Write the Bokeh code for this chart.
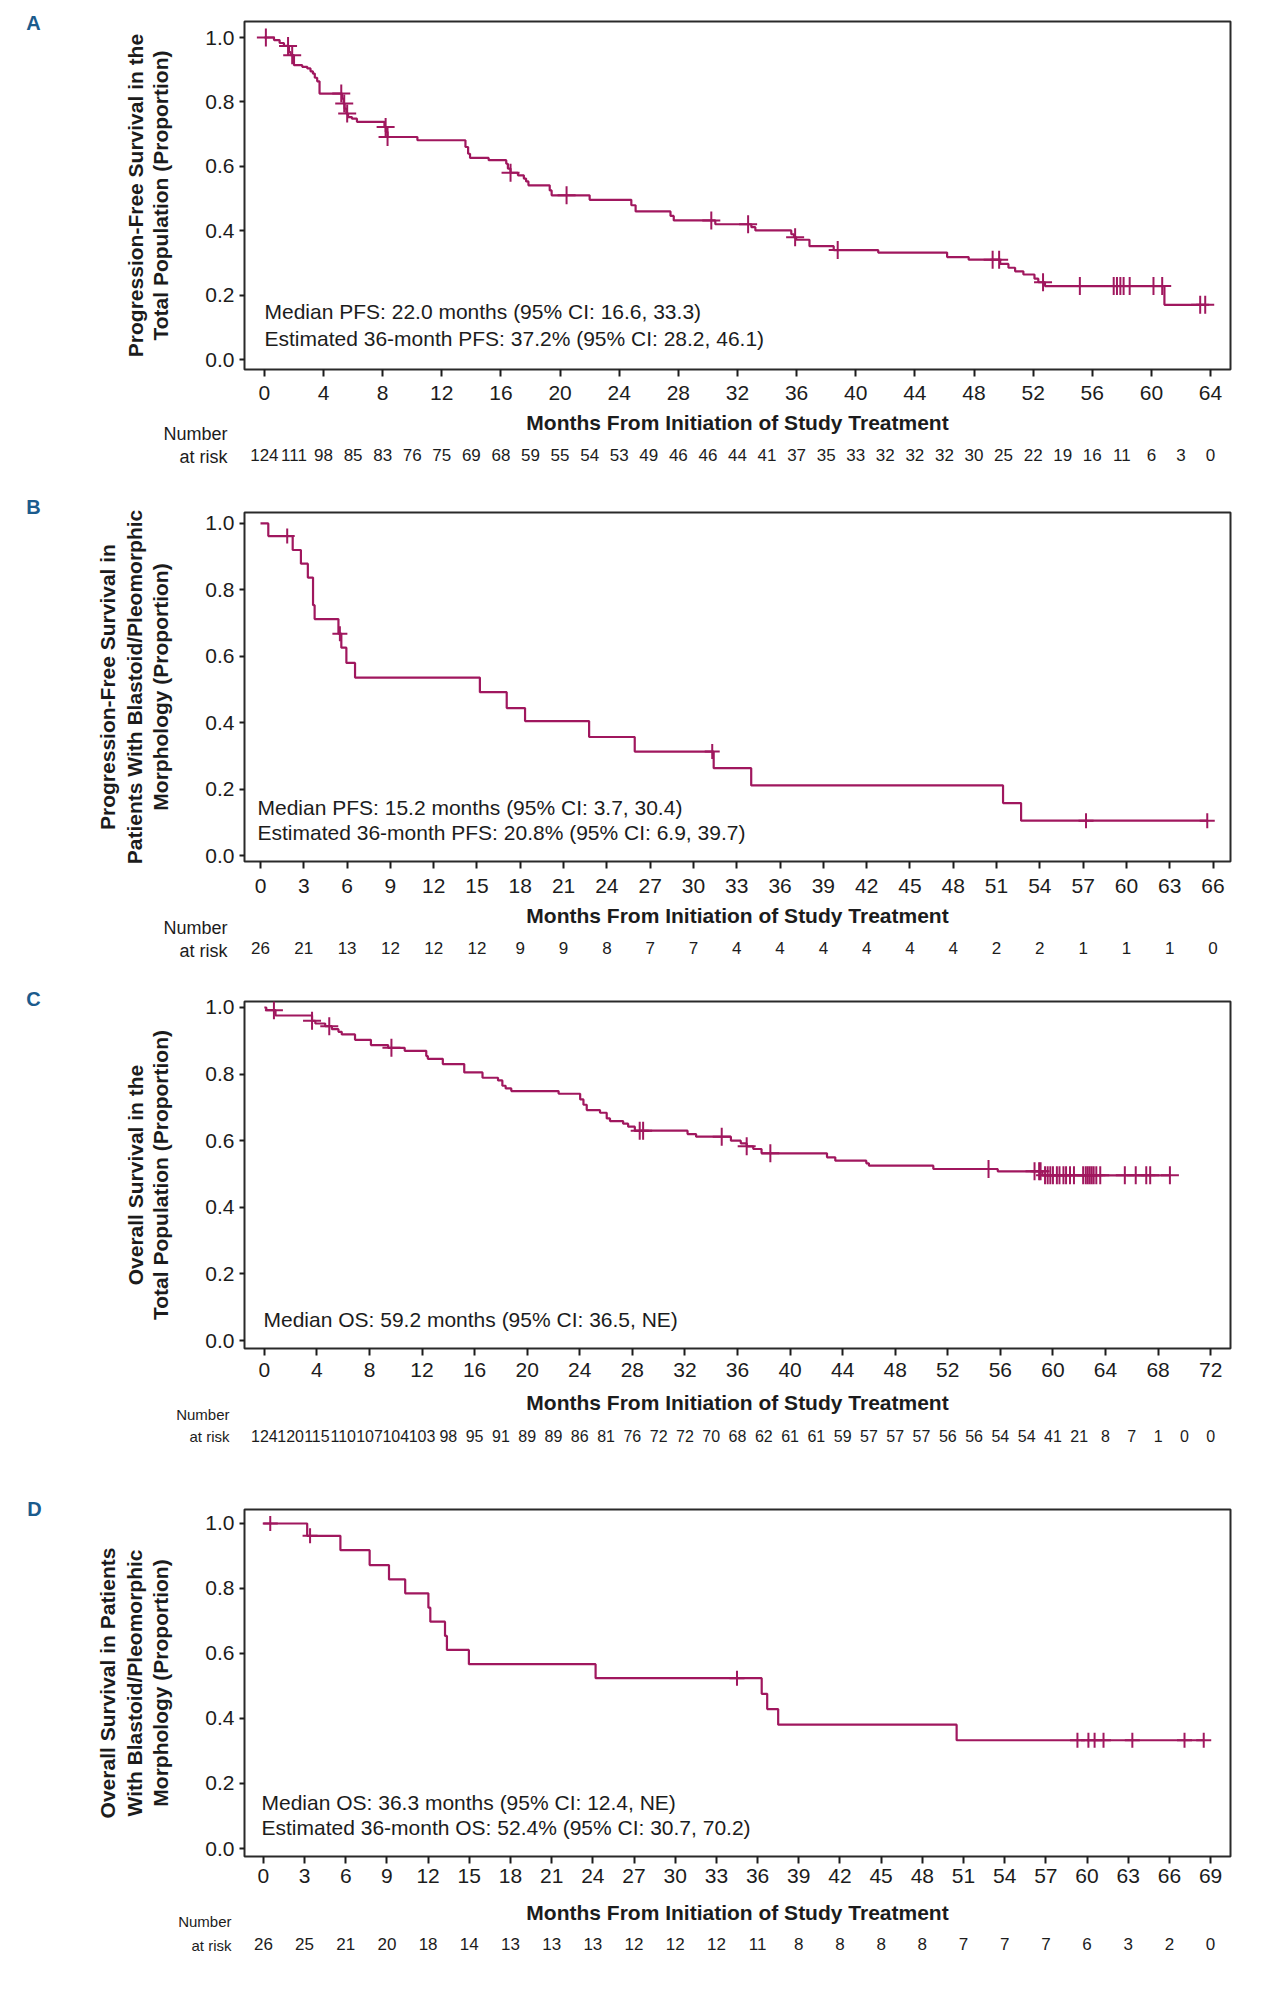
from bokeh.plotting import figure
from bokeh.models import Range1d, FixedTicker, LinearAxis, Label, NumeralTickFormatter
from bokeh.layouts import column
from bokeh.embed import file_html
from bokeh.resources import INLINE

# ---------------- data ----------------
X_TITLE = "Months From Initiation of Study Treatment"

# Panel A: PFS, total population
A_event_months = [0.65, 1.03, 1.32, 1.66, 1.77, 2.0, 2.56, 2.9, 3.12, 3.28, 3.41, 3.57, 3.73,
                  5.25, 5.36, 5.43, 5.54, 5.66, 5.92, 6.26, 8.12, 8.21, 8.33, 10.35, 13.6,
                  13.78, 13.91, 15.17, 16.36, 16.47, 16.65, 17.15, 17.55, 17.7, 17.86, 19.3,
                  19.43, 22.0, 24.82, 25.11, 27.47, 27.69, 30.5, 32.94, 33.21, 35.64, 35.82,
                  35.97, 36.87, 38.51, 41.52, 46.18, 47.64, 49.77, 50.33, 50.78, 51.34, 52.09,
                  52.35, 52.8, 60.88]
A_event_surv = [0.992, 0.983, 0.974, 0.955, 0.945, 0.914, 0.909, 0.904, 0.895, 0.888, 0.875, 0.864, 0.826,
                0.810, 0.795, 0.779, 0.764, 0.753, 0.748, 0.738, 0.722, 0.707, 0.691, 0.681, 0.660,
                0.639, 0.626, 0.619, 0.608, 0.593, 0.580, 0.572, 0.562, 0.553, 0.541, 0.525,
                0.510, 0.496, 0.479, 0.460, 0.446, 0.432, 0.420, 0.411, 0.401, 0.389, 0.380,
                0.372, 0.352, 0.340, 0.332, 0.318, 0.310, 0.297, 0.285, 0.274, 0.264, 0.251,
                0.240, 0.228, 0.170]
A_censor_months = [0.1, 1.6, 1.88, 5.2, 5.4, 5.6, 8.2, 8.33, 16.65, 20.44, 30.23, 32.72, 35.9,
                   38.78, 49.26, 49.7, 52.67, 55.16, 57.45, 57.67, 57.9, 58.12, 58.53, 60.14,
                   60.73, 63.3, 63.64]
A_x_ticks = list(range(0, 65, 4))
A_risk_months = list(range(0, 65, 2))
A_at_risk = [124, 111, 98, 85, 83, 76, 75, 69, 68, 59, 55, 54, 53, 49, 46, 46, 44, 41, 37, 35,
             33, 32, 32, 32, 30, 25, 22, 19, 16, 11, 6, 3, 0]
A_y_title = "Progression-Free Survival in the\nTotal Population (Proportion)"
A_notes = ["Median PFS: 22.0 months (95% CI: 16.6, 33.3)",
           "Estimated 36-month PFS: 37.2% (95% CI: 28.2, 46.1)"]

# Panel B: PFS, blastoid/pleomorphic
B_event_months = [0.54, 2.23, 2.8, 3.28, 3.64, 3.75, 5.4, 5.6, 5.95, 6.55, 15.2, 17.06, 18.33,
                  22.77, 25.93, 31.4, 34.0, 51.45, 52.7]
B_event_surv = [0.962, 0.920, 0.879, 0.837, 0.754, 0.712, 0.668, 0.626, 0.580, 0.536, 0.492,
                0.444, 0.405, 0.357, 0.313, 0.263, 0.211, 0.158, 0.105]
B_censor_months = [1.85, 5.5, 31.3, 57.2, 65.6]
B_x_ticks = list(range(0, 67, 3))
B_risk_months = list(range(0, 67, 3))
B_at_risk = [26, 21, 13, 12, 12, 12, 9, 9, 8, 7, 7, 4, 4, 4, 4, 4, 4, 2, 2, 1, 1, 1, 0]
B_y_title = "Progression-Free Survival in\nPatients With Blastoid/Pleomorphic\nMorphology (Proportion)"
B_notes = ["Median PFS: 15.2 months (95% CI: 3.7, 30.4)",
           "Estimated 36-month PFS: 20.8% (95% CI: 6.9, 39.7)"]

# Panel C: OS, total population
C_event_months = [0.15, 0.85, 3.63, 3.88, 4.63, 5.14, 5.64, 5.89, 6.9, 8.11, 9.42, 10.68, 12.32,
                  12.44, 13.58, 15.21, 16.6, 17.78, 18.11, 18.36, 18.79, 22.39, 24.03, 24.28,
                  24.53, 25.54, 26.05, 26.3, 27.3, 27.68, 28.19, 32.2, 32.85, 35.5, 36.25, 36.7,
                  37.2, 37.83, 42.81, 43.44, 45.8, 46.0, 50.9, 55.8, 59.2]
C_event_surv = [0.992, 0.976, 0.960, 0.952, 0.944, 0.935, 0.927, 0.919, 0.903, 0.887, 0.879, 0.870, 0.854,
                0.846, 0.830, 0.805, 0.789, 0.781, 0.765, 0.757, 0.749, 0.741, 0.724, 0.708,
                0.692, 0.684, 0.667, 0.659, 0.651, 0.642, 0.630, 0.620, 0.612, 0.600, 0.592, 0.583,
                0.575, 0.562, 0.550, 0.540, 0.532, 0.525, 0.515, 0.508, 0.496]
C_censor_months = [0.73, 3.63, 4.94, 9.67, 28.56, 28.82, 34.8, 36.7, 38.5, 55.1, 58.6, 58.95,
                   59.06, 59.4, 59.6, 59.8, 60.0, 60.3, 60.5, 60.8, 61.0, 61.3, 61.6, 62.3, 62.5,
                   62.65, 62.8, 62.95, 63.1, 63.3, 63.6, 65.47, 66.3, 67.1, 67.4, 68.9]
C_x_ticks = list(range(0, 73, 4))
C_risk_months = list(range(0, 73, 2))
C_at_risk = [124, 120, 115, 110, 107, 104, 103, 98, 95, 91, 89, 89, 86, 81, 76, 72, 72, 70, 68,
             62, 61, 61, 59, 57, 57, 57, 56, 56, 54, 54, 41, 21, 8, 7, 1, 0, 0]
C_y_title = "Overall Survival in the\nTotal Population (Proportion)"
C_notes = ["Median OS: 59.2 months (95% CI: 36.5, NE)"]

# Panel D: OS, blastoid/pleomorphic
D_event_months = [3.19, 5.61, 7.74, 9.15, 10.33, 12.02, 12.16, 13.23, 13.37, 14.97, 24.2, 36.3,
                  36.7, 37.5, 50.5]
D_event_surv = [0.962, 0.918, 0.872, 0.828, 0.785, 0.741, 0.698, 0.654, 0.611, 0.567, 0.524,
                0.476, 0.429, 0.381, 0.333]
D_censor_months = [0.5, 3.4, 34.5, 59.3, 60.1, 60.55, 61.2, 63.3, 67.1, 68.5]
D_x_ticks = list(range(0, 70, 3))
D_risk_months = list(range(0, 70, 3))
D_at_risk = [26, 25, 21, 20, 18, 14, 13, 13, 13, 12, 12, 12, 11, 8, 8, 8, 8, 7, 7, 7, 6, 3, 2, 0]
D_y_title = "Overall Survival in Patients\nWith Blastoid/Pleomorphic\nMorphology (Proportion)"
D_notes = ["Median OS: 36.3 months (95% CI: 12.4, NE)",
           "Estimated 36-month OS: 52.4% (95% CI: 30.7, 70.2)"]

Y_TICKS = [0.0, 0.2, 0.4, 0.6, 0.8, 1.0]

# ---------------- style ----------------
CURVE = "#a0175e"
INK = "#1c1c1c"
LETTER = "#1b5b8d"
FONT = "Liberation Sans"
W = 1274


def km_path(ev_t, ev_s, cens_t):
    end = max(list(ev_t) + list(cens_t))
    xs = [0.0] + list(ev_t) + [end]
    ys = [1.0] + list(ev_s) + [ev_s[-1]]
    return xs, ys


def surv_at(t, ev_t, ev_s):
    s = 1.0
    for tt, ss in zip(ev_t, ev_s):
        if tt <= t:
            s = ss
    return s


def panel(letter, height, frame, xr, yr, ev_t, ev_s, cens_t, x_ticks, risk_t, risk_n,
          y_title, notes, lay):
    left, right, top, bottom = frame
    p = figure(width=W, height=height, x_range=Range1d(*xr), y_range=Range1d(*yr),
               output_backend="svg", toolbar_location=None,
               min_border_left=left, min_border_right=W - right,
               min_border_top=top, min_border_bottom=height - bottom)
    p.background_fill_color = "white"
    p.border_fill_color = "white"
    p.outline_line_color = "#2a2a2a"
    p.outline_line_width = 2
    p.xgrid.visible = False
    p.ygrid.visible = False

    xs, ys = km_path(ev_t, ev_s, cens_t)
    p.step(xs, ys, mode="after", line_color=CURVE, line_width=2.2)
    cy = [surv_at(t, ev_t, ev_s) for t in cens_t]
    p.scatter(cens_t, cy, marker="cross", size=lay["csize"], line_color=CURVE, line_width=2)

    xa = p.xaxis[0]
    xa.ticker = FixedTicker(ticks=x_ticks)
    xa.axis_line_color = None
    xa.major_tick_out = 7
    xa.major_tick_in = 0
    xa.minor_tick_line_color = None
    xa.major_tick_line_width = 2
    xa.major_tick_line_color = INK
    xa.major_label_text_font = FONT
    xa.major_label_text_font_size = "21px"
    xa.major_label_text_color = INK
    xa.major_label_standoff = lay["xs1"]
    xa.axis_label = X_TITLE
    xa.axis_label_text_font = FONT
    xa.axis_label_text_font_size = "21px"
    xa.axis_label_text_font_style = "bold"
    xa.axis_label_text_color = INK
    xa.axis_label_standoff = lay["xs2"]

    ya = p.yaxis[0]
    ya.ticker = FixedTicker(ticks=Y_TICKS)
    ya.formatter = NumeralTickFormatter(format="0.0")
    ya.axis_line_color = None
    ya.major_tick_out = 5
    ya.major_tick_in = 0
    ya.minor_tick_line_color = None
    ya.major_tick_line_width = 2
    ya.major_tick_line_color = INK
    ya.major_label_text_font = FONT
    ya.major_label_text_font_size = "21px"
    ya.major_label_text_color = INK
    ya.major_label_standoff = 5
    ya.axis_label = y_title
    ya.axis_label_text_font = FONT
    ya.axis_label_text_font_size = "21px"
    ya.axis_label_text_font_style = "bold"
    ya.axis_label_text_color = INK
    ya.axis_label_text_line_height = lay["lh"]
    ya.axis_label_standoff = lay["ys"]

    risk = LinearAxis(ticker=FixedTicker(ticks=risk_t),
                      major_label_overrides={int(t): str(n) for t, n in zip(risk_t, risk_n)})
    risk.axis_line_color = None
    risk.major_tick_line_color = None
    risk.minor_tick_line_color = None
    risk.major_tick_out = 0
    risk.major_tick_in = 0
    risk.major_label_text_font = FONT
    risk.major_label_text_font_size = lay["rfs"]
    risk.major_label_text_color = INK
    risk.major_label_standoff = lay["rs"]
    p.add_layout(risk, "below")

    # texts outside the frame: placed in side panels, positioned in canvas pixels
    p.add_layout(Label(x=lay["nx"], y=lay["ny"], x_units="canvas", y_units="canvas",
                       text="Number\nat risk", text_font=FONT, text_font_size=lay["nfs"],
                       text_line_height=lay["nlh"],
                       text_color=INK, text_align="right", text_baseline="middle"), "left")
    p.add_layout(Label(x=lay["lx"], y=lay["ly"], x_units="canvas", y_units="canvas",
                       text=letter, text_font=FONT, text_font_size="20px",
                       text_font_style="bold", text_color=LETTER,
                       text_align="center", text_baseline="middle"), "right")
    for i, t in enumerate(notes):
        p.add_layout(Label(x=lay["tx"], y=lay["ty"][i], x_units="screen", y_units="screen",
                           text=t, text_font=FONT, text_font_size="21px",
                           text_color=INK, text_align="left", text_baseline="middle"))
    return p


pA = panel("A", 478, (242, 1233, 21, 369), (-1.346, 65.35), (-0.031, 1.0497),
           A_event_months, A_event_surv, A_censor_months, A_x_ticks, A_risk_months, A_at_risk,
           A_y_title, A_notes,
           dict(csize=18, xs1=9, xs2=8, rs=12, rfs="17px", lh=1.12, ys=30,
                nx=227, ny=445, nfs="18px", nlh=1.12, lx=33, ly=22, tx=20, ty=[58, 31]))
pB = panel("B", 490, (244, 1230, 34, 383), (-1.109, 67.21), (-0.018, 1.033),
           B_event_months, B_event_surv, B_censor_months, B_x_ticks, B_risk_months, B_at_risk,
           B_y_title, B_notes,
           dict(csize=15, xs1=10, xs2=8, rs=12, rfs="17px", lh=1.15, ys=30,
                nx=227, ny=461, nfs="18px", nlh=1.12, lx=33, ly=28, tx=13, ty=[54, 29]))
pC = panel("C", 500, (242, 1236, 33, 380), (-1.509, 73.51), (-0.024, 1.018),
           C_event_months, C_event_surv, C_censor_months, C_x_ticks, C_risk_months, C_at_risk,
           C_y_title, C_notes,
           dict(csize=18, xs1=7, xs2=11, rs=13, rfs="16px", lh=1.12, ys=30,
                nx=229, ny=457, nfs="15px", nlh=1.25, lx=33, ly=30, tx=19, ty=[29]))
pD = panel("D", 530, (244, 1236, 41, 388), (-1.376, 70.45), (-0.0246, 1.043),
           D_event_months, D_event_surv, D_censor_months, D_x_ticks, D_risk_months, D_at_risk,
           D_y_title, D_notes,
           dict(csize=15, xs1=5, xs2=15, rs=11, rfs="17px", lh=1.15, ys=30,
                nx=231, ny=465, nfs="15px", nlh=1.4, lx=34, ly=40, tx=17, ty=[54, 29]))

layout = column(pA, pB, pC, pD, spacing=0)
open("out.html", "w").write(file_html(layout, INLINE))
